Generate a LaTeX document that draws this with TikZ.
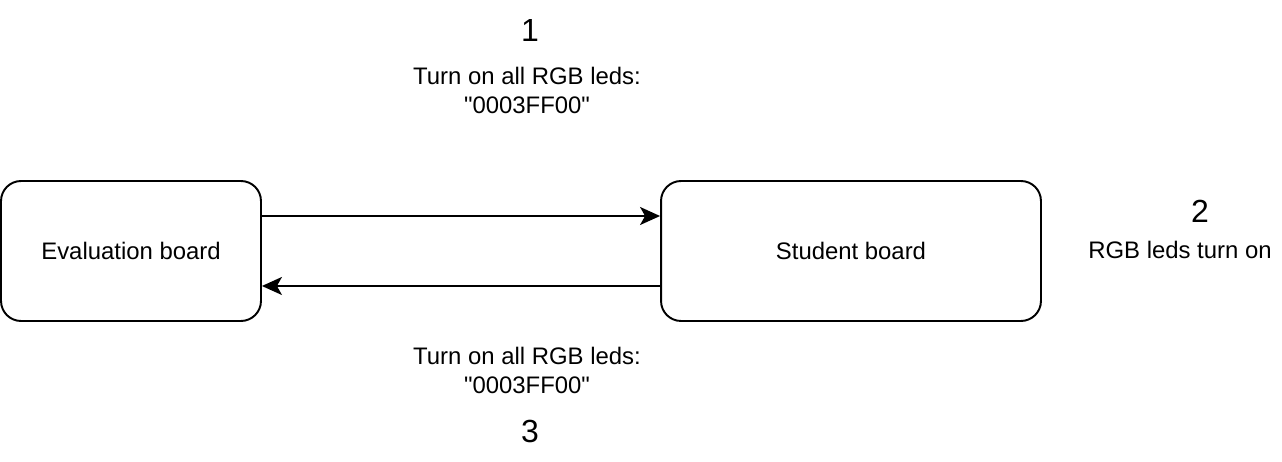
\documentclass[tikz,border=0pt]{standalone}
\usepackage{fontspec}
\setmainfont{Liberation Sans}
\usetikzlibrary{arrows.meta}

\begin{document}
\begin{tikzpicture}[x=0.02cm, y=-0.02cm, line width=1.1pt]
\tikzstyle{board} = [draw, rounded corners=0.4cm, minimum height=2.8cm, font=\fontsize{13.6}{16.5}\selectfont]
\tikzstyle{msg} = [align=center, font=\fontsize{13.6}{16.5}\selectfont]
\tikzstyle{num} = [font=\fontsize{18.2}{20}\selectfont]
\tikzstyle{tip} = [-{Stealth[length=0.4cm, width=0.36cm, inset=0.1cm]}]
\useasboundingbox (0,0) rectangle (1282,462);

\node[board, minimum width=5.2cm] (eval) at (131,251) {Evaluation board};
\node[board, minimum width=7.6cm] (student) at (851,251) {Student board};

% messages and step numbers
\node[num] (n1) at (530,31) {1};
\node[msg] (m1) at (527,90) {Turn on all RGB leds:\\\textquotedbl0003FF00\textquotedbl};
\node[num] (n2) at (1200,211) {2};
\node[msg] (m2) at (1180,250) {RGB leds turn on};
\node[msg] (m3) at (527,370) {Turn on all RGB leds:\\\textquotedbl0003FF00\textquotedbl};
\node[num] (n3) at (530,431) {3};

\draw [tip] ([yshift=0.7cm]eval.east) -- ([yshift=0.7cm]student.west);
\draw [tip] ([yshift=-0.7cm]student.west) -- ([yshift=-0.7cm]eval.east);
\end{tikzpicture}
\end{document}
